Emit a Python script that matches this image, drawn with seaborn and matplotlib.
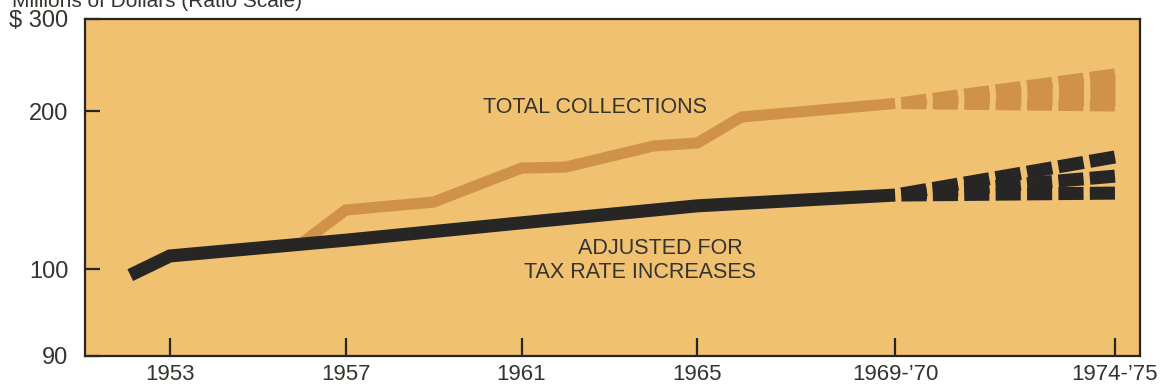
import numpy as np
import pandas as pd
import matplotlib
matplotlib.use("Agg")
import matplotlib.pyplot as plt
import seaborn as sns

# ---- data (millions of dollars); 1969-'70 sits at 1969.5, 1974-'75 at 1974.5 ----
collections_years = [1956, 1957, 1959, 1961, 1962, 1964, 1965, 1966, 1969.5]
collections_values = [112.0, 129.6, 134.2, 155.8, 156.5, 171.7, 174.0, 195.0, 207.0]

adjusted_years = [1952.1, 1953, 1957, 1961, 1965, 1969.5]
adjusted_values = [99.3, 105.9, 113.5, 122.5, 132.0, 138.4]

# projected ranges to 1974-'75
projection_years = [1969.5, 1974.5]
collections_low = [207.0, 204.7]
collections_high = [207.0, 235.6]
adjusted_low = [138.4, 139.6]
adjusted_mid = [138.4, 150.4]
adjusted_high = [138.4, 163.6]

tick_years = [1953, 1957, 1961, 1965, 1969.5, 1974.5]
tick_year_labels = ["1953", "1957", "1961", "1965", "1969-\u201970", "1974-\u201975"]
value_ticks = [90, 100, 200, 300]
value_tick_labels = ["90", "100", "200", "$ 300"]

# ---- style ----
PANEL = "#F0C170"
ORANGE = "#D09249"
DARK = "#272624"
TEXT = "#36322D"
ORANGE_LW = 8.0
DARK_LW = 9.4

sns.set_theme(style="white")
plt.rcParams["font.family"] = ["Liberation Sans", "DejaVu Sans"]

# ratio scale above 100, compressed break between 90 and 100
GAP = 0.166


def forward(v):
    v = np.asarray(v, dtype=float)
    safe = np.where(v > 0, v, 1.0)
    return np.where(v >= 100, np.log10(safe), 2.0 - (100.0 - v) / 10.0 * GAP)


def inverse(t):
    t = np.asarray(t, dtype=float)
    return np.where(t >= 2.0, 10.0 ** np.minimum(t, 10), 100.0 - (2.0 - t) / GAP * 10.0)


fig = plt.figure(figsize=(11.65, 3.89), dpi=100)
fig.patch.set_facecolor("white")
ax = fig.add_axes([85 / 1165, 33 / 389, 1055 / 1165, 337 / 389])
ax.set_facecolor(PANEL)
ax.set_yscale("function", functions=(forward, inverse))

coll_df = pd.DataFrame({"year": collections_years, "value": collections_values})
adj_df = pd.DataFrame({"year": adjusted_years, "value": adjusted_values})

sns.lineplot(data=coll_df, x="year", y="value", color=ORANGE, linewidth=ORANGE_LW,
             sort=False, ax=ax, solid_capstyle="butt", solid_joinstyle="miter", zorder=2)
sns.lineplot(data=adj_df, x="year", y="value", color=DARK, linewidth=DARK_LW,
             sort=False, ax=ax, solid_capstyle="butt", solid_joinstyle="miter", zorder=3)


def along(series, x):
    """Value on the straight (ratio-scale) segment between the two projection points."""
    t0, t1 = forward(series[0]), forward(series[1])
    f = (x - projection_years[0]) / (projection_years[1] - projection_years[0])
    return float(inverse(t0 + (t1 - t0) * f))


# projections drawn as broken blocks
n_dash = 7
period = (projection_years[1] - projection_years[0]) / n_dash
gap = 0.2 * period
for k in range(n_dash):
    s = projection_years[0] + k * period + gap
    e = projection_years[0] + (k + 1) * period
    xs = [s, e]
    lo = [along(collections_low, s), along(collections_low, e)]
    hi = [along(collections_high, s), along(collections_high, e)]
    ax.fill_between(xs, lo, hi, color=ORANGE, lw=0, zorder=2)
    ax.plot(xs, lo, color=ORANGE, lw=ORANGE_LW, solid_capstyle="butt", zorder=2)
    ax.plot(xs, hi, color=ORANGE, lw=ORANGE_LW, solid_capstyle="butt", zorder=2)
    for series in (adjusted_low, adjusted_mid, adjusted_high):
        ax.plot(xs, [along(series, s), along(series, e)], color=DARK, lw=DARK_LW,
                solid_capstyle="butt", zorder=3)

ax.set_xlim(1951.07, 1975.07)
ax.set_ylim(90, 300)

ax.set_xticks(tick_years)
ax.set_xticklabels(tick_year_labels)
ax.set_yticks(value_ticks)
ax.set_yticklabels(value_tick_labels)
ax.minorticks_off()
ax.set_xlabel("")
ax.set_ylabel("")

ax.tick_params(axis="x", direction="in", length=13, width=1.6, pad=5.5,
               labelsize=16, colors=DARK, labelcolor=TEXT, bottom=True, top=False)
ax.tick_params(axis="y", direction="in", length=11, width=1.6, pad=12,
               labelsize=17, colors=DARK, labelcolor=TEXT, left=True, right=False)

for side in ("left", "right", "top", "bottom"):
    ax.spines[side].set_visible(True)
    ax.spines[side].set_color(DARK)
    ax.spines[side].set_linewidth(1.6)

ax.text(0.4834, 0.736, "TOTAL COLLECTIONS", transform=ax.transAxes,
        ha="center", va="center", fontsize=15.5, color=TEXT)
ax.text(0.545, 0.320, "ADJUSTED FOR", transform=ax.transAxes,
        ha="center", va="center", fontsize=15.5, color=TEXT)
ax.text(0.526, 0.249, "TAX RATE INCREASES", transform=ax.transAxes,
        ha="center", va="center", fontsize=15.5, color=TEXT)

fig.text(12 / 1165, 1 - 7 / 389, "Millions of Dollars (Ratio Scale)",
         ha="left", va="baseline", fontsize=15, color=TEXT)

fig.savefig("out.png", dpi=100)
